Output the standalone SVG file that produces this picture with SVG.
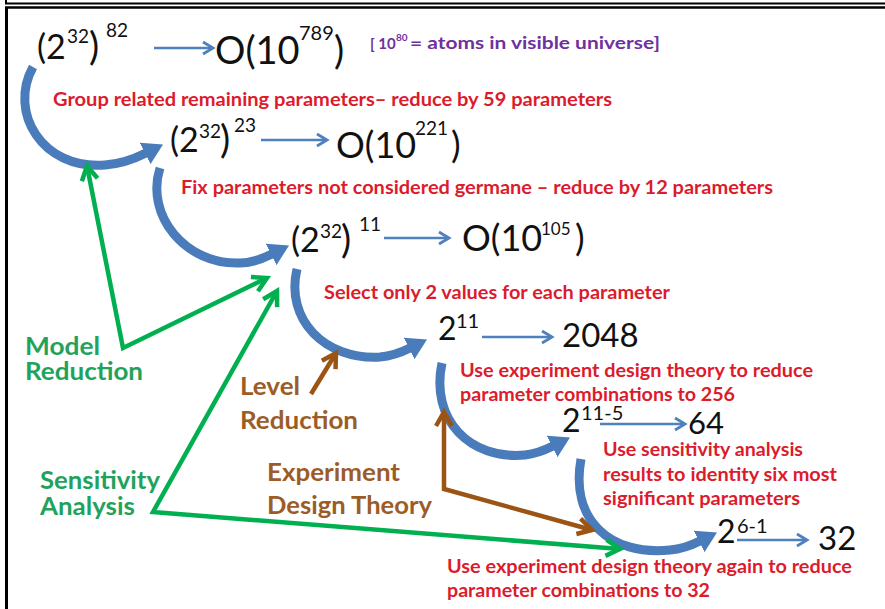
<svg xmlns="http://www.w3.org/2000/svg" width="885" height="609" viewBox="0 0 885 609">
<defs>
<style>
.m{font-family:Lato,"Open Sans","Liberation Sans",sans-serif;fill:#111111;}
.r{font-family:Lato,"Open Sans","Liberation Sans",sans-serif;font-weight:700;font-size:19px;fill:#dc1b2c;}
.g{font-family:Lato,"Open Sans","Liberation Sans",sans-serif;font-weight:700;font-size:24px;fill:#1fa35c;}
.b{font-family:Lato,"Open Sans","Liberation Sans",sans-serif;font-weight:700;font-size:24px;fill:#9c5c26;}
.p{font-family:Lato,"Open Sans","Liberation Sans",sans-serif;font-weight:700;font-size:17px;fill:#7030a0;}
.curve{fill:none;stroke:#4a7bba;stroke-width:9;marker-end:url(#bh);}
.thin{fill:none;stroke:#4f81bd;stroke-width:2.5;marker-end:url(#th);}
.gl{fill:none;stroke:#00b050;stroke-width:4.5;stroke-linejoin:miter;}
.bl{fill:none;stroke:#9c5414;stroke-width:4.5;stroke-linejoin:miter;}
.frame{stroke:#000000;fill:none;}
</style>
<marker id="bh" markerUnits="userSpaceOnUse" viewBox="0 0 20 24" markerWidth="20" markerHeight="24" refX="1" refY="12" orient="auto">
<path d="M0,0 L20,12 L0,24 Z" fill="#4a7bba"/>
</marker>
<marker id="th" markerUnits="userSpaceOnUse" viewBox="0 0 14 14" markerWidth="14" markerHeight="14" refX="12" refY="7" orient="auto" overflow="visible">
<path d="M2,1 L12,7 L2,13" fill="none" stroke="#4f81bd" stroke-width="2.8"/>
</marker>
<marker id="gh" markerUnits="userSpaceOnUse" viewBox="0 0 20 20" markerWidth="20" markerHeight="20" refX="17" refY="10" orient="auto-start-reverse" overflow="visible">
<path d="M3,2 L17,10 L3,18" fill="none" stroke="#00b050" stroke-width="4.5"/>
</marker>
<marker id="brh" markerUnits="userSpaceOnUse" viewBox="0 0 20 20" markerWidth="20" markerHeight="20" refX="17" refY="10" orient="auto-start-reverse" overflow="visible">
<path d="M3,2 L17,10 L3,18" fill="none" stroke="#9c5414" stroke-width="4.5"/>
</marker>
</defs>
<rect x="0" y="0" width="885" height="609" fill="#ffffff"/>
<g id="frame">
<line class="frame" x1="5" y1="3.5" x2="885" y2="3.5" stroke-width="2"/>
<line class="frame" x1="6" y1="0" x2="6" y2="4" stroke-width="2"/>
<line class="frame" x1="5" y1="7.5" x2="885" y2="7.5" stroke-width="2.5"/>
<line class="frame" x1="6.5" y1="7" x2="6.5" y2="609" stroke-width="3"/>
</g>
<g id="connectors">
<path class="curve" d="M 33,67 C 8,112 42,170 105,165 C 120,164 134,159 146,153"/>
<path class="curve" d="M 160,168 C 145,215 185,265 240,263 C 252,263 262,259 272,254"/>
<path class="curve" d="M 297,269 C 285,320 325,360 380,357 C 392,356 402,352 410,348"/>
<path class="curve" d="M 442,363 C 430,420 470,460 525,455 C 535,454 545,450 553,446"/>
<path class="curve" d="M 581,459 C 570,520 610,556 670,550 C 682,549 692,545 700,541"/>
<line class="thin" x1="154" y1="48" x2="213" y2="48"/>
<line class="thin" x1="261" y1="140" x2="327" y2="140"/>
<line class="thin" x1="384" y1="238" x2="449" y2="238"/>
<line class="thin" x1="482" y1="337" x2="552" y2="337"/>
<line class="thin" x1="600" y1="424" x2="685" y2="424"/>
<line class="thin" x1="737" y1="540" x2="807" y2="540"/>
<path class="gl" d="M 87,166 L 123,348 L 267,278" marker-start="url(#gh)" marker-end="url(#gh)"/>
<path class="gl" d="M 277,291 L 153,512 L 620,549" marker-start="url(#gh)" marker-end="url(#gh)"/>
<path class="bl" d="M 311,394 L 336,353" marker-end="url(#brh)"/>
<path class="bl" d="M 444,412 L 444,489 L 592,530" marker-start="url(#brh)" marker-end="url(#brh)"/>
</g>
<g id="expr1" class="m">
<text x="37" y="59" font-size="34">(2</text>
<text x="67" y="43" font-size="19">32</text>
<text x="89" y="60" font-size="38">)</text>
<text x="106" y="37" font-size="19">82</text>
</g>
<g id="res1" class="m">
<text x="215" y="64" font-size="38">O(10</text>
<text x="299" y="40" font-size="20">789</text>
<text x="334" y="64" font-size="38">)</text>
</g>
<g id="note" class="p">
<text x="370" y="49" font-size="15">[ 10</text>
<text x="396" y="41" font-size="10">80</text>
<text x="410" y="49" textLength="250" lengthAdjust="spacingAndGlyphs">= atoms in visible universe]</text>
</g>
<g id="step1" class="r"><text x="53" y="106" textLength="559" lengthAdjust="spacingAndGlyphs">Group related remaining parameters– reduce by 59 parameters</text></g>
<g id="expr2" class="m">
<text x="170" y="152" font-size="34">(2</text>
<text x="199" y="138" font-size="19">32</text>
<text x="220" y="153" font-size="38">)</text>
<text x="234" y="132" font-size="19">23</text>
</g>
<g id="res2" class="m">
<text x="336" y="158" font-size="36">O(10</text>
<text x="415" y="135" font-size="19">221</text>
<text x="451" y="158" font-size="36">)</text>
</g>
<g id="step2" class="r"><text x="181" y="194" textLength="592" lengthAdjust="spacingAndGlyphs">Fix parameters not considered germane – reduce by 12 parameters</text></g>
<g id="expr3" class="m">
<text x="291" y="252" font-size="34">(2</text>
<text x="320" y="238" font-size="19">32</text>
<text x="341" y="253" font-size="38">)</text>
<text x="359" y="231" font-size="19">11</text>
</g>
<g id="res3" class="m">
<text x="462" y="251" font-size="36">O(10</text>
<text x="541" y="235" font-size="17">105</text>
<text x="575" y="251" font-size="36">)</text>
</g>
<g id="step3" class="r"><text x="324" y="299" textLength="346" lengthAdjust="spacingAndGlyphs">Select only 2 values for each parameter</text></g>
<g id="expr4" class="m">
<text x="438" y="340" font-size="32">2</text>
<text x="456" y="328" font-size="20">11</text>
</g>
<g id="res4" class="m"><text x="562" y="347" font-size="33">2048</text></g>
<g id="step4" class="r">
<text x="460" y="377" textLength="353" lengthAdjust="spacingAndGlyphs">Use experiment design theory to reduce</text>
<text x="460" y="401" textLength="275" lengthAdjust="spacingAndGlyphs">parameter combinations to 256</text>
</g>
<g id="expr5" class="m">
<text x="562" y="432" font-size="32">2</text>
<text x="581" y="420" font-size="20">11-5</text>
</g>
<g id="res5" class="m"><text x="688" y="434" font-size="31">64</text></g>
<g id="step5" class="r">
<text x="603" y="456" textLength="200" lengthAdjust="spacingAndGlyphs">Use sensitivity analysis</text>
<text x="603" y="481" textLength="234" lengthAdjust="spacingAndGlyphs">results to identity six most</text>
<text x="603" y="505" textLength="197" lengthAdjust="spacingAndGlyphs">significant parameters</text>
</g>
<g id="expr6" class="m">
<text x="717" y="543" font-size="32">2</text>
<text x="737" y="533" font-size="20">6-1</text>
</g>
<g id="res6" class="m"><text x="818" y="550" font-size="33">32</text></g>
<g id="step6" class="r">
<text x="447" y="573" textLength="405" lengthAdjust="spacingAndGlyphs">Use experiment design theory again to reduce</text>
<text x="447" y="597" textLength="263" lengthAdjust="spacingAndGlyphs">parameter combinations to 32</text>
</g>
<g id="model-reduction" class="g">
<text x="25" y="355" textLength="75" lengthAdjust="spacingAndGlyphs">Model</text>
<text x="25" y="380" textLength="118" lengthAdjust="spacingAndGlyphs">Reduction</text>
</g>
<g id="sensitivity-analysis" class="g">
<text x="40" y="489" textLength="120" lengthAdjust="spacingAndGlyphs">Sensitivity</text>
<text x="40" y="515" textLength="95" lengthAdjust="spacingAndGlyphs">Analysis</text>
</g>
<g id="level-reduction" class="b">
<text x="240" y="395" textLength="60" lengthAdjust="spacingAndGlyphs">Level</text>
<text x="240" y="429" textLength="118" lengthAdjust="spacingAndGlyphs">Reduction</text>
</g>
<g id="experiment-design-theory" class="b">
<text x="267" y="481" textLength="133" lengthAdjust="spacingAndGlyphs">Experiment</text>
<text x="267" y="514" textLength="165" lengthAdjust="spacingAndGlyphs">Design Theory</text>
</g>
</svg>
